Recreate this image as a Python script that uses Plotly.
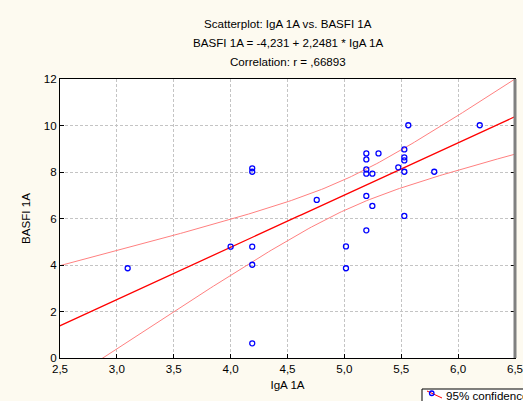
import numpy as np
import plotly.graph_objects as go

# Data
iga = [3.095, 4.00, 4.19, 4.19, 4.19, 4.19, 4.19, 4.757, 5.014, 5.014,
       5.193, 5.193, 5.193, 5.193, 5.193, 5.193, 5.246, 5.246, 5.30, 5.474,
       5.527, 5.527, 5.527, 5.527, 5.527, 5.562, 5.79, 6.19]
basfi = [3.86, 4.79, 8.16, 8.01, 4.79, 4.01, 0.63, 6.80, 4.80, 3.86,
         8.80, 8.54, 8.11, 7.93, 6.97, 5.49, 7.93, 6.54, 8.80, 8.20,
         8.97, 8.63, 8.50, 8.01, 6.11, 10.01, 8.01, 10.01]
intercept = -4.231
slope = 2.2481
x_ticks = [2.5, 3.0, 3.5, 4.0, 4.5, 5.0, 5.5, 6.0, 6.5]
y_ticks = [0, 2, 4, 6, 8, 10, 12]

x = np.array(iga)
y = np.array(basfi)
n = len(x)
xs = np.linspace(2.3, 6.7, 200)
yfit = intercept + slope * xs
resid = y - (intercept + slope * x)
s = np.sqrt(np.sum(resid ** 2) / (n - 2))
sxx = np.sum((x - x.mean()) ** 2)
t = 2.0555
hw = t * s * np.sqrt(1 / n + (xs - x.mean()) ** 2 / sxx)

fig = go.Figure()
fig.add_trace(go.Scatter(x=xs, y=yfit + hw, mode="lines",
                         line=dict(color="#ff8080", width=1), showlegend=False))
fig.add_trace(go.Scatter(x=xs, y=yfit - hw, mode="lines",
                         line=dict(color="#ff8080", width=1), showlegend=False))
fig.add_trace(go.Scatter(x=xs, y=yfit, mode="lines",
                         line=dict(color="#ff0000", width=1.3), showlegend=False))
fig.add_trace(go.Scatter(x=iga, y=basfi, mode="markers",
                         marker=dict(symbol="circle-open", size=5, color="#0000ff",
                                     line=dict(width=1.3, color="#0000ff")),
                         showlegend=False))

font = dict(family="Liberation Sans, Arial, sans-serif", size=11.6, color="#000000")

L, R, T, B = 60, 8, 79, 43
W, H = 523, 401
pw, ph = W - L - R, H - T - B

def px(xp):
    return (xp - L) / pw

def py(yp):
    return (H - B - yp) / ph

grid = dict(showgrid=True, gridcolor="#c4c4c4", griddash="3px,2px", gridwidth=1,
            zeroline=False, showline=True, linecolor="#000000", linewidth=1,
            ticks="inside", ticklen=4, tickcolor="#000000", automargin=False)

fig.update_layout(
    width=W, height=H,
    margin=dict(l=L, r=R, t=T, b=B, autoexpand=False),
    paper_bgcolor="#fdfaf0",
    plot_bgcolor="#ffffff",
    separators=",.",
    font=font,
    showlegend=False,
    xaxis=dict(range=[2.5, 6.5], tickvals=x_ticks, tickformat=".1f", mirror=True,
               ticklabeloverflow="allow",
               title=dict(text="IgA 1A", font=font, standoff=6), **grid),
    yaxis=dict(range=[0, 12], tickvals=y_ticks, mirror="ticks",
               title=dict(text="BASFI 1A", font=font, standoff=10), **grid),
    shapes=[
        dict(type="line", xref="paper", yref="paper", x0=1, x1=1, y0=0, y1=1,
             line=dict(color="#808080", width=3)),
        dict(type="rect", xref="paper", yref="paper", x0=px(422), x1=px(540),
             y0=py(389), y1=py(410), line=dict(color="#000000", width=1),
             fillcolor="#ffffff"),
        dict(type="line", xref="paper", yref="paper", x0=px(427), x1=px(442),
             y0=py(391), y1=py(398), line=dict(color="#ff0000", width=1)),
        dict(type="circle", xref="paper", yref="paper", x0=px(429.5), x1=px(434),
             y0=py(391), y1=py(395.5), line=dict(color="#0000ff", width=1.3)),
    ],
    annotations=[
        dict(text="Scatterplot: IgA 1A vs. BASFI 1A", xref="paper", yref="paper",
             x=0.5, y=py(23), showarrow=False, font=font, yanchor="middle"),
        dict(text="BASFI 1A = -4,231 + 2,2481 * IgA 1A", xref="paper", yref="paper",
             x=0.5, y=py(43), showarrow=False, font=font, yanchor="middle"),
        dict(text="Correlation: r = ,66893", xref="paper", yref="paper",
             x=0.5, y=py(62), showarrow=False, font=font, yanchor="middle"),
        dict(text="95% confidence", xref="paper", yref="paper",
             x=px(444), y=py(395.5), xanchor="left", yanchor="middle",
             showarrow=False, font=font),
    ],
)

fig.write_html("out.html", config={"displayModeBar": False},
               post_script="document.body.style.margin='0';document.body.style.padding='0';"
                           "document.body.style.background='#fdfaf0';"
                           "document.body.style.overflow='hidden';")
